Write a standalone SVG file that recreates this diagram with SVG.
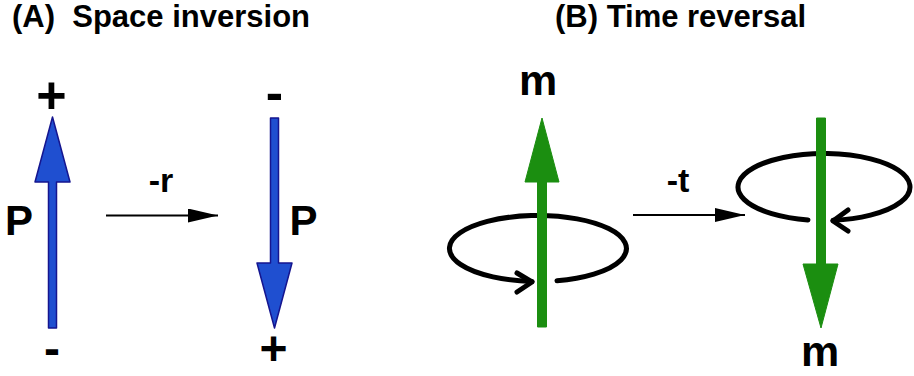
<svg xmlns="http://www.w3.org/2000/svg" width="914" height="376" viewBox="0 0 914 376">
<style>
text{font-family:"Liberation Sans",Arial,sans-serif;font-weight:bold;fill:#000}
.title{font-size:31px}
.sign{font-size:52px;text-anchor:middle}
.signb{font-size:48px;text-anchor:middle}
.big{font-size:42px;text-anchor:middle}
.lbl{font-size:34px;text-anchor:middle}
.blue{fill:#1f4fd0;stroke:#15158f;stroke-width:1.5;stroke-linejoin:round}
.green{fill:#1b8e10;stroke:#1b8e10;stroke-width:1;stroke-linejoin:round}
.loop{fill:none;stroke:#000;stroke-width:5;stroke-linecap:round;stroke-linejoin:round}
.conn{stroke:#000;stroke-width:2;fill:none}
</style>
<defs>
<marker id="ah" markerUnits="userSpaceOnUse" markerWidth="30" markerHeight="14" refX="30" refY="7" orient="auto">
<path d="M0,0 L30,7 L0,14 Z" fill="#000"/>
</marker>
</defs>
<g id="titleA"><text class="title" x="12" y="27" xml:space="preserve">(A)  Space inversion</text></g>
<g id="titleB"><text class="title" x="555" y="27">(B) Time reversal</text></g>

<g id="P1">
<polygon class="blue" points="52.5,117 70,182 56.5,182 56.5,328 48.5,328 48.5,182 35,182"/>
<text class="sign" x="51.5" y="113">+</text>
<text class="signb" x="52" y="364.5">-</text>
<text class="big" x="19" y="235">P</text>
</g>

<g id="P2">
<polygon class="blue" points="270.5,118 278.5,118 278.5,263 292,263 274.5,328 257,263 270.5,263"/>
<text class="sign" x="274.5" y="110">-</text>
<text class="signb" x="273.5" y="365">+</text>
<text class="big" x="303.5" y="235">P</text>
</g>

<g id="m1">
<path class="loop" d="M557,280.7 A88.5,33 0 1 0 532,281.4"/>
<polyline class="loop" points="517,273 532,282 517,292"/>
<polygon class="green" points="542,118 559,182 546.5,182 546.5,327 537.5,327 537.5,182 525,182"/>
<text class="big" x="538" y="95" style="font-size:43px">m</text>
</g>

<g id="m2">
<path class="loop" d="M808,219.9 A86,33.5 0 1 1 833,220.3"/>
<polyline class="loop" points="848,210 833,221 848,231"/>
<polygon class="green" points="816.5,118 825.5,118 825.5,264 838,264 821,328 803,264 816.5,264"/>
<text class="big" x="820" y="366" style="font-size:43px">m</text>
</g>

<g id="connectors">
<line class="conn" x1="106" y1="215.5" x2="218" y2="215.5" marker-end="url(#ah)"/>
<text class="lbl" x="161" y="192">-r</text>
<line class="conn" x1="633" y1="215" x2="745" y2="215" marker-end="url(#ah)"/>
<text class="lbl" x="678" y="192">-t</text>
</g>
</svg>
